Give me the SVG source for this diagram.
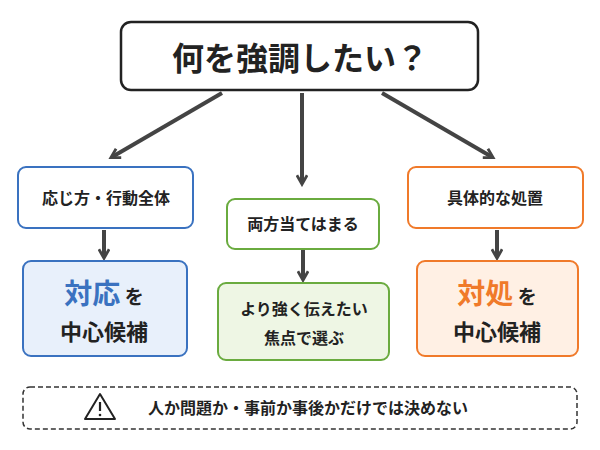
<svg xmlns="http://www.w3.org/2000/svg" width="600" height="450" viewBox="0 0 600 450">
<style>
text{font-family:"Noto Sans CJK JP","Noto Sans",sans-serif;font-weight:bold;fill:#222;text-anchor:middle}
.c line{stroke:#444;stroke-width:4;marker-end:url(#a)}
</style>
<defs><marker id="a" viewBox="0 0 10 10" refX="7" refY="5" markerWidth="3.2" markerHeight="3.2" orient="auto"><path d="M1,1L8,5L1,9" fill="none" stroke="#444" stroke-width="2.2"/></marker></defs>
<rect width="600" height="450" fill="#fff"/>
<g id="top"><rect x="121" y="22" width="357" height="68" rx="10" fill="#fff" stroke="#222" stroke-width="2.5"/><text x="300" y="70" font-size="32">何を強調したい？</text></g>
<g class="c">
<line x1="222" y1="93" x2="112" y2="157"/>
<line x1="302" y1="93" x2="302" y2="183"/>
<line x1="382" y1="93" x2="492" y2="157"/>
<line x1="104" y1="230" x2="104" y2="257"/>
<line x1="303" y1="250" x2="303" y2="279"/>
<line x1="497" y1="230" x2="497" y2="257"/>
</g>
<g id="l1"><rect x="18" y="167" width="175" height="61" rx="8" fill="#fff" stroke="#3a72c0" stroke-width="2"/><text x="106" y="204" font-size="16">応じ方・行動全体</text></g>
<g id="l2"><rect x="23" y="261" width="164" height="95" rx="8" fill="#e8f0fb" stroke="#3a72c0" stroke-width="2"/><text x="104" y="304" font-size="28"><tspan fill="#3a72c0">対応</tspan><tspan font-size="19"> を</tspan></text><text x="104" y="340" font-size="22">中心候補</text></g>
<g id="m1"><rect x="227" y="199" width="152" height="50" rx="8" fill="#fff" stroke="#6aab3f" stroke-width="2"/><text x="303" y="230" font-size="16">両方当てはまる</text></g>
<g id="m2"><rect x="218" y="283" width="171" height="77" rx="8" fill="#eef6e4" stroke="#6aab3f" stroke-width="2"/><text x="304" y="315" font-size="16">より強く伝えたい</text><text x="304" y="344" font-size="16">焦点で選ぶ</text></g>
<g id="r1"><rect x="408" y="167" width="175" height="61" rx="8" fill="#fff" stroke="#f07a2a" stroke-width="2"/><text x="495" y="204" font-size="16">具体的な処置</text></g>
<g id="r2"><rect x="417" y="261" width="161" height="95" rx="8" fill="#fff0e4" stroke="#f07a2a" stroke-width="2"/><text x="497" y="304" font-size="28"><tspan fill="#f07a2a">対処</tspan><tspan font-size="19"> を</tspan></text><text x="497" y="340" font-size="22">中心候補</text></g>
<g id="note"><rect x="23" y="387" width="554" height="42" rx="7" fill="#fff" stroke="#333" stroke-width="1.5" stroke-dasharray="5,3"/>
<path d="M100,394L115,419H85Z" fill="none" stroke="#222" stroke-width="2" stroke-linejoin="round"/><line x1="100" y1="402" x2="100" y2="411" stroke="#222" stroke-width="2.2"/><circle cx="100" cy="415" r="1.3" fill="#222"/>
<text x="308" y="414" font-size="16">人か問題か・事前か事後かだけでは決めない</text></g>
</svg>
